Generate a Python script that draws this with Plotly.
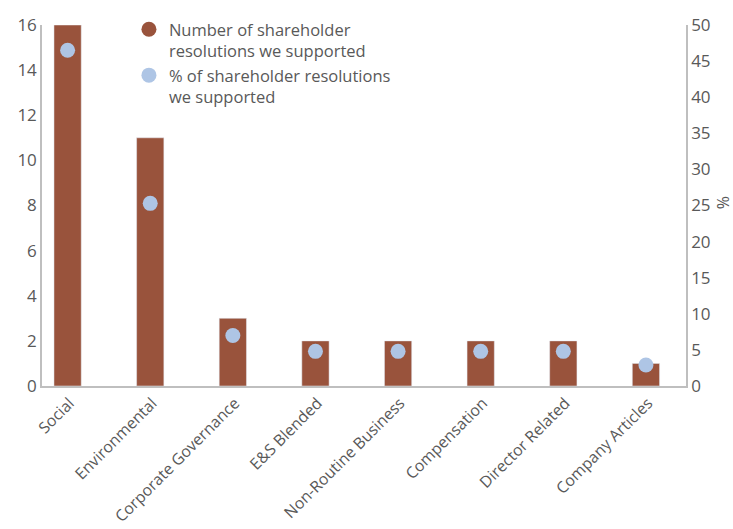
import plotly.graph_objects as go

categories = ["Social", "Environmental", "Corporate Governance", "E&S Blended",
              "Non-Routine Business", "Compensation", "Director Related", "Company Articles"]
num_supported = [16, 11, 3, 2, 2, 2, 2, 1]
pct_supported = [46.5, 25.3, 7.0, 4.8, 4.8, 4.8, 4.8, 2.9]
left_ticks = [0, 2, 4, 6, 8, 10, 12, 14, 16]
right_ticks = [0, 5, 10, 15, 20, 25, 30, 35, 40, 45, 50]

BAR = "#99533C"
DOT = "#AEC5E5"
GREY = "#595959"
FONT = "Open Sans"

fig = go.Figure()
fig.add_trace(go.Bar(x=categories, y=num_supported, marker_color=BAR, width=0.33,
                     showlegend=False, yaxis="y"))
fig.add_trace(go.Scatter(x=categories, y=pct_supported, mode="markers",
                         marker=dict(color=DOT, size=15), showlegend=False, yaxis="y2"))
# legend entries (circles)
fig.add_trace(go.Scatter(x=[None], y=[None], mode="markers",
                         marker=dict(color=BAR, size=15),
                         name="Number of shareholder<br>resolutions we supported"))
fig.add_trace(go.Scatter(x=[None], y=[None], mode="markers",
                         marker=dict(color=DOT, size=15),
                         name="% of shareholder resolutions<br>we supported"))

fig.update_layout(
    width=733, height=529,
    margin=dict(l=42, r=47, t=19, b=143),
    plot_bgcolor="white", paper_bgcolor="white",
    font=dict(family=FONT, color=GREY, size=16),
    xaxis=dict(range=[-0.31, 7.485], tickangle=-45, showline=True, linecolor="#BFBFBF",
               linewidth=1.5, ticks="", tickfont=dict(size=15.8), showgrid=False,
               ticklabelshift=2, automargin=False),
    yaxis=dict(range=[0, 16], tickvals=left_ticks, showline=True, linecolor="#BFBFBF",
               linewidth=1.5, showgrid=False, zeroline=False, ticks="", tickfont=dict(size=17),
               automargin=False),
    yaxis2=dict(range=[0, 50], tickvals=right_ticks, overlaying="y", side="right",
                showline=True, linecolor="#BFBFBF", linewidth=1.5, showgrid=False,
                zeroline=False, ticks="", tickfont=dict(size=17), automargin=False),
    legend=dict(x=0.135, y=1.036, xanchor="left", yanchor="top", bgcolor="rgba(0,0,0,0)",
                font=dict(size=16.5, color=GREY), itemsizing="trace", tracegroupgap=4,
                valign="top"),
    annotations=[dict(text="%", xref="paper", yref="paper", x=1.058, y=0.507,
                      xanchor="center", yanchor="middle",
                      textangle=-90, showarrow=False, font=dict(size=16, color=GREY))],
)

fig.write_html("out.html")
